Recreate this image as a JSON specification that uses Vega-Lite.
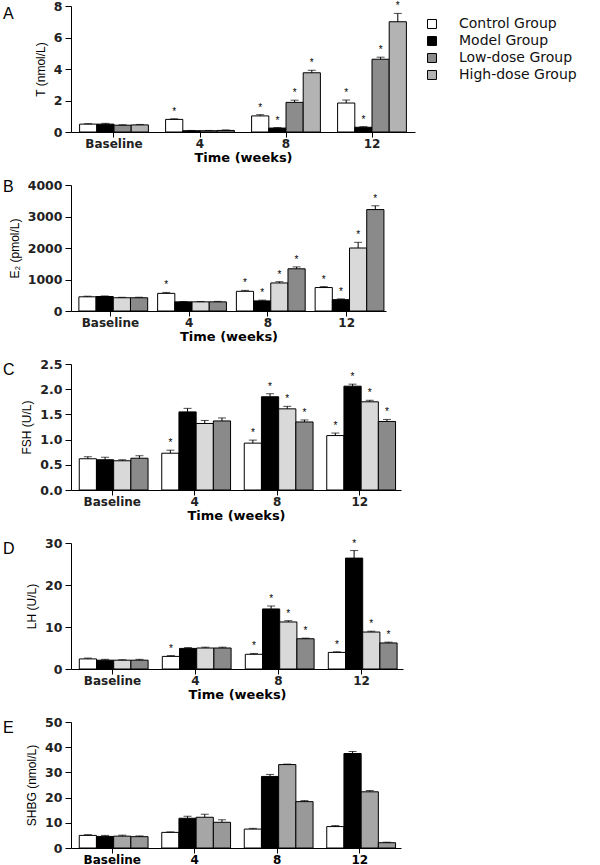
{
  "$schema": "https://vega.github.io/schema/vega-lite/v6.json",
  "background": "white",
  "padding": {"left": 3, "top": 0, "right": 5, "bottom": 0},
  "spacing": 15,
  "datasets": {
    "T": [
      {"time": "Baseline", "group": "Control Group", "v": 0.50, "hi": 0.53, "sig": ""},
      {"time": "Baseline", "group": "Model Group", "v": 0.50, "hi": 0.55, "sig": ""},
      {"time": "Baseline", "group": "Low-dose Group", "v": 0.43, "hi": 0.46, "sig": ""},
      {"time": "Baseline", "group": "High-dose Group", "v": 0.45, "hi": 0.48, "sig": ""},
      {"time": "4", "group": "Control Group", "v": 0.80, "hi": 0.84, "sig": "*"},
      {"time": "4", "group": "Model Group", "v": 0.08, "hi": 0.10, "sig": ""},
      {"time": "4", "group": "Low-dose Group", "v": 0.08, "hi": 0.10, "sig": ""},
      {"time": "4", "group": "High-dose Group", "v": 0.10, "hi": 0.13, "sig": ""},
      {"time": "8", "group": "Control Group", "v": 1.02, "hi": 1.10, "sig": "*"},
      {"time": "8", "group": "Model Group", "v": 0.25, "hi": 0.28, "sig": "*"},
      {"time": "8", "group": "Low-dose Group", "v": 1.88, "hi": 2.02, "sig": "*"},
      {"time": "8", "group": "High-dose Group", "v": 3.76, "hi": 3.92, "sig": "*"},
      {"time": "12", "group": "Control Group", "v": 1.84, "hi": 2.03, "sig": "*"},
      {"time": "12", "group": "Model Group", "v": 0.30, "hi": 0.34, "sig": "*"},
      {"time": "12", "group": "Low-dose Group", "v": 4.62, "hi": 4.75, "sig": "*"},
      {"time": "12", "group": "High-dose Group", "v": 7.00, "hi": 7.53, "sig": "*"}
    ],
    "E2": [
      {"time": "Baseline", "group": "Control Group", "v": 450, "hi": 470, "sig": ""},
      {"time": "Baseline", "group": "Model Group", "v": 460, "hi": 478, "sig": ""},
      {"time": "Baseline", "group": "Low-dose Group", "v": 420, "hi": 435, "sig": ""},
      {"time": "Baseline", "group": "High-dose Group", "v": 420, "hi": 437, "sig": ""},
      {"time": "4", "group": "Control Group", "v": 560, "hi": 590, "sig": "*"},
      {"time": "4", "group": "Model Group", "v": 290, "hi": 302, "sig": ""},
      {"time": "4", "group": "Low-dose Group", "v": 290, "hi": 302, "sig": ""},
      {"time": "4", "group": "High-dose Group", "v": 290, "hi": 305, "sig": ""},
      {"time": "8", "group": "Control Group", "v": 625, "hi": 655, "sig": "*"},
      {"time": "8", "group": "Model Group", "v": 320, "hi": 345, "sig": "*"},
      {"time": "8", "group": "Low-dose Group", "v": 890, "hi": 930, "sig": "*"},
      {"time": "8", "group": "High-dose Group", "v": 1340, "hi": 1400, "sig": "*"},
      {"time": "12", "group": "Control Group", "v": 745, "hi": 775, "sig": "*"},
      {"time": "12", "group": "Model Group", "v": 360, "hi": 385, "sig": "*"},
      {"time": "12", "group": "Low-dose Group", "v": 2000, "hi": 2180, "sig": "*"},
      {"time": "12", "group": "High-dose Group", "v": 3220, "hi": 3340, "sig": "*"}
    ],
    "FSH": [
      {"time": "Baseline", "group": "Control Group", "v": 0.62, "hi": 0.66, "sig": ""},
      {"time": "Baseline", "group": "Model Group", "v": 0.60, "hi": 0.65, "sig": ""},
      {"time": "Baseline", "group": "Low-dose Group", "v": 0.58, "hi": 0.60, "sig": ""},
      {"time": "Baseline", "group": "High-dose Group", "v": 0.63, "hi": 0.68, "sig": ""},
      {"time": "4", "group": "Control Group", "v": 0.73, "hi": 0.79, "sig": "*"},
      {"time": "4", "group": "Model Group", "v": 1.55, "hi": 1.62, "sig": ""},
      {"time": "4", "group": "Low-dose Group", "v": 1.32, "hi": 1.38, "sig": ""},
      {"time": "4", "group": "High-dose Group", "v": 1.37, "hi": 1.43, "sig": ""},
      {"time": "8", "group": "Control Group", "v": 0.93, "hi": 0.99, "sig": "*"},
      {"time": "8", "group": "Model Group", "v": 1.85, "hi": 1.91, "sig": "*"},
      {"time": "8", "group": "Low-dose Group", "v": 1.61, "hi": 1.66, "sig": "*"},
      {"time": "8", "group": "High-dose Group", "v": 1.35, "hi": 1.39, "sig": "*"},
      {"time": "12", "group": "Control Group", "v": 1.08, "hi": 1.13, "sig": "*"},
      {"time": "12", "group": "Model Group", "v": 2.06, "hi": 2.10, "sig": "*"},
      {"time": "12", "group": "Low-dose Group", "v": 1.75, "hi": 1.78, "sig": "*"},
      {"time": "12", "group": "High-dose Group", "v": 1.36, "hi": 1.40, "sig": "*"}
    ],
    "LH": [
      {"time": "Baseline", "group": "Control Group", "v": 2.4, "hi": 2.6, "sig": ""},
      {"time": "Baseline", "group": "Model Group", "v": 2.1, "hi": 2.3, "sig": ""},
      {"time": "Baseline", "group": "Low-dose Group", "v": 2.1, "hi": 2.2, "sig": ""},
      {"time": "Baseline", "group": "High-dose Group", "v": 2.1, "hi": 2.3, "sig": ""},
      {"time": "4", "group": "Control Group", "v": 3.0, "hi": 3.2, "sig": "*"},
      {"time": "4", "group": "Model Group", "v": 4.9, "hi": 5.1, "sig": ""},
      {"time": "4", "group": "Low-dose Group", "v": 5.0, "hi": 5.2, "sig": ""},
      {"time": "4", "group": "High-dose Group", "v": 5.0, "hi": 5.2, "sig": ""},
      {"time": "8", "group": "Control Group", "v": 3.5, "hi": 3.7, "sig": "*"},
      {"time": "8", "group": "Model Group", "v": 14.3, "hi": 15.0, "sig": "*"},
      {"time": "8", "group": "Low-dose Group", "v": 11.2, "hi": 11.5, "sig": "*"},
      {"time": "8", "group": "High-dose Group", "v": 7.2, "hi": 7.35, "sig": "*"},
      {"time": "12", "group": "Control Group", "v": 3.95, "hi": 4.1, "sig": "*"},
      {"time": "12", "group": "Model Group", "v": 26.4, "hi": 28.2, "sig": "*"},
      {"time": "12", "group": "Low-dose Group", "v": 8.8, "hi": 9.0, "sig": "*"},
      {"time": "12", "group": "High-dose Group", "v": 6.2, "hi": 6.4, "sig": "*"}
    ],
    "SHBG": [
      {"time": "Baseline", "group": "Control Group", "v": 5.0, "hi": 5.3, "sig": ""},
      {"time": "Baseline", "group": "Model Group", "v": 4.6, "hi": 5.0, "sig": ""},
      {"time": "Baseline", "group": "Low-dose Group", "v": 4.7, "hi": 5.1, "sig": ""},
      {"time": "Baseline", "group": "High-dose Group", "v": 4.5, "hi": 4.8, "sig": ""},
      {"time": "4", "group": "Control Group", "v": 6.2, "hi": 6.4, "sig": ""},
      {"time": "4", "group": "Model Group", "v": 11.8, "hi": 12.6, "sig": ""},
      {"time": "4", "group": "Low-dose Group", "v": 12.2, "hi": 13.4, "sig": ""},
      {"time": "4", "group": "High-dose Group", "v": 10.2, "hi": 11.2, "sig": ""},
      {"time": "8", "group": "Control Group", "v": 7.5, "hi": 7.8, "sig": ""},
      {"time": "8", "group": "Model Group", "v": 28.4, "hi": 29.2, "sig": ""},
      {"time": "8", "group": "Low-dose Group", "v": 33.1, "hi": 33.3, "sig": ""},
      {"time": "8", "group": "High-dose Group", "v": 18.4, "hi": 18.8, "sig": ""},
      {"time": "12", "group": "Control Group", "v": 8.5, "hi": 8.9, "sig": ""},
      {"time": "12", "group": "Model Group", "v": 37.5, "hi": 38.3, "sig": ""},
      {"time": "12", "group": "Low-dose Group", "v": 22.3, "hi": 22.8, "sig": ""},
      {"time": "12", "group": "High-dose Group", "v": 2.1, "hi": 2.3, "sig": ""}
    ]
  },
  "resolve": {"scale": {"fill": "independent"}, "legend": {"fill": "independent"}},
  "vconcat": [
    {
      "title": {"text": "A", "anchor": "start", "frame": "group", "dx": -68, "offset": -22},
      "width": 344, "height": 126,
      "data": {"name": "T"},
      "encoding": {
        "x": {"field": "time", "type": "nominal", "sort": ["Baseline", "4", "8", "12"], "scale": {"paddingInner": 0.2, "paddingOuter": 0.1}, "axis": {"title": "Time (weeks)"}},
        "xOffset": {"field": "group", "type": "nominal", "sort": ["Control Group", "Model Group", "Low-dose Group", "High-dose Group"]}
      },
      "layer": [
        {"mark": {"type": "bar", "stroke": "black", "strokeWidth": 1},
         "encoding": {
           "y": {"field": "v", "type": "quantitative", "title": "T (nmol/L)", "scale": {"domain": [0, 8], "nice": false}, "axis": {"values": [0, 2, 4, 6, 8]}},
           "fill": {"field": "group", "type": "nominal", "sort": ["Control Group", "Model Group", "Low-dose Group", "High-dose Group"],
             "scale": {"domain": ["Control Group", "Model Group", "Low-dose Group", "High-dose Group"], "range": ["#ffffff", "#000000", "#8c8c8c", "#b3b3b3"]},
             "legend": {"title": null, "orient": "none", "legendX": 354, "legendY": 11}}
         }},
        {"mark": {"type": "rule", "color": "black", "strokeWidth": 1},
         "encoding": {"y": {"field": "v", "type": "quantitative", "title": "T (nmol/L)", "axis": {"values": [0, 2, 4, 6, 8]}}, "y2": {"field": "hi"}}},
        {"mark": {"type": "tick", "color": "black", "thickness": 1, "size": 8, "orient": "horizontal"},
         "encoding": {"y": {"field": "hi", "type": "quantitative", "title": "T (nmol/L)", "axis": {"values": [0, 2, 4, 6, 8]}}}},
        {"mark": {"type": "text", "dy": -2, "baseline": "bottom", "fontSize": 10, "color": "black"},
         "encoding": {"y": {"field": "hi", "type": "quantitative", "title": "T (nmol/L)", "axis": {"values": [0, 2, 4, 6, 8]}}, "text": {"field": "sig"}}}
      ]
    },
    {
      "title": {"text": "B", "anchor": "start", "frame": "group", "dx": -68, "offset": -16},
      "width": 315, "height": 126,
      "data": {"name": "E2"},
      "encoding": {
        "x": {"field": "time", "type": "nominal", "sort": ["Baseline", "4", "8", "12"], "scale": {"paddingInner": 0.2, "paddingOuter": 0.1}, "axis": {"title": "Time (weeks)"}},
        "xOffset": {"field": "group", "type": "nominal", "sort": ["Control Group", "Model Group", "Low-dose Group", "High-dose Group"]}
      },
      "layer": [
        {"mark": {"type": "bar", "stroke": "black", "strokeWidth": 1},
         "encoding": {
           "y": {"field": "v", "type": "quantitative", "title": "E₂ (pmol/L)", "scale": {"domain": [0, 4000], "nice": false}, "axis": {"values": [0, 1000, 2000, 3000, 4000], "format": "d"}},
           "fill": {"field": "group", "type": "nominal",
             "scale": {"domain": ["Control Group", "Model Group", "Low-dose Group", "High-dose Group"], "range": ["#ffffff", "#000000", "#d9d9d9", "#8a8a8a"]},
             "legend": null}
         }},
        {"mark": {"type": "rule", "color": "black", "strokeWidth": 1},
         "encoding": {"y": {"field": "v", "type": "quantitative", "title": "E₂ (pmol/L)", "axis": {"values": [0, 1000, 2000, 3000, 4000], "format": "d"}}, "y2": {"field": "hi"}}},
        {"mark": {"type": "tick", "color": "black", "thickness": 1, "size": 8, "orient": "horizontal"},
         "encoding": {"y": {"field": "hi", "type": "quantitative", "title": "E₂ (pmol/L)", "axis": {"values": [0, 1000, 2000, 3000, 4000], "format": "d"}}}},
        {"mark": {"type": "text", "dy": -2, "baseline": "bottom", "fontSize": 10, "color": "black"},
         "encoding": {"y": {"field": "hi", "type": "quantitative", "title": "E₂ (pmol/L)", "axis": {"values": [0, 1000, 2000, 3000, 4000], "format": "d"}}, "text": {"field": "sig"}}}
      ]
    },
    {
      "title": {"text": "C", "anchor": "start", "frame": "group", "dx": -68, "offset": -20},
      "width": 330, "height": 126,
      "data": {"name": "FSH"},
      "encoding": {
        "x": {"field": "time", "type": "nominal", "sort": ["Baseline", "4", "8", "12"], "scale": {"paddingInner": 0.2, "paddingOuter": 0.1}, "axis": {"title": "Time (weeks)"}},
        "xOffset": {"field": "group", "type": "nominal", "sort": ["Control Group", "Model Group", "Low-dose Group", "High-dose Group"]}
      },
      "layer": [
        {"mark": {"type": "bar", "stroke": "black", "strokeWidth": 1},
         "encoding": {
           "y": {"field": "v", "type": "quantitative", "title": "FSH (U/L)", "scale": {"domain": [0, 2.5], "nice": false}, "axis": {"values": [0, 0.5, 1, 1.5, 2, 2.5], "format": ".1f"}},
           "fill": {"field": "group", "type": "nominal",
             "scale": {"domain": ["Control Group", "Model Group", "Low-dose Group", "High-dose Group"], "range": ["#ffffff", "#000000", "#d9d9d9", "#8a8a8a"]},
             "legend": null}
         }},
        {"mark": {"type": "rule", "color": "black", "strokeWidth": 1},
         "encoding": {"y": {"field": "v", "type": "quantitative", "title": "FSH (U/L)", "axis": {"values": [0, 0.5, 1, 1.5, 2, 2.5], "format": ".1f"}}, "y2": {"field": "hi"}}},
        {"mark": {"type": "tick", "color": "black", "thickness": 1, "size": 8, "orient": "horizontal"},
         "encoding": {"y": {"field": "hi", "type": "quantitative", "title": "FSH (U/L)", "axis": {"values": [0, 0.5, 1, 1.5, 2, 2.5], "format": ".1f"}}}},
        {"mark": {"type": "text", "dy": -2, "baseline": "bottom", "fontSize": 10, "color": "black"},
         "encoding": {"y": {"field": "hi", "type": "quantitative", "title": "FSH (U/L)", "axis": {"values": [0, 0.5, 1, 1.5, 2, 2.5], "format": ".1f"}}, "text": {"field": "sig"}}}
      ]
    },
    {
      "title": {"text": "D", "anchor": "start", "frame": "group", "dx": -68, "offset": -20},
      "width": 332, "height": 126,
      "data": {"name": "LH"},
      "encoding": {
        "x": {"field": "time", "type": "nominal", "sort": ["Baseline", "4", "8", "12"], "scale": {"paddingInner": 0.2, "paddingOuter": 0.1}, "axis": {"title": "Time (weeks)"}},
        "xOffset": {"field": "group", "type": "nominal", "sort": ["Control Group", "Model Group", "Low-dose Group", "High-dose Group"]}
      },
      "layer": [
        {"mark": {"type": "bar", "stroke": "black", "strokeWidth": 1},
         "encoding": {
           "y": {"field": "v", "type": "quantitative", "title": "LH (U/L)", "scale": {"domain": [0, 30], "nice": false}, "axis": {"values": [0, 10, 20, 30]}},
           "fill": {"field": "group", "type": "nominal",
             "scale": {"domain": ["Control Group", "Model Group", "Low-dose Group", "High-dose Group"], "range": ["#ffffff", "#000000", "#d9d9d9", "#8a8a8a"]},
             "legend": null}
         }},
        {"mark": {"type": "rule", "color": "black", "strokeWidth": 1},
         "encoding": {"y": {"field": "v", "type": "quantitative", "title": "LH (U/L)", "axis": {"values": [0, 10, 20, 30]}}, "y2": {"field": "hi"}}},
        {"mark": {"type": "tick", "color": "black", "thickness": 1, "size": 8, "orient": "horizontal"},
         "encoding": {"y": {"field": "hi", "type": "quantitative", "title": "LH (U/L)", "axis": {"values": [0, 10, 20, 30]}}}},
        {"mark": {"type": "text", "dy": -2, "baseline": "bottom", "fontSize": 10, "color": "black"},
         "encoding": {"y": {"field": "hi", "type": "quantitative", "title": "LH (U/L)", "axis": {"values": [0, 10, 20, 30]}}, "text": {"field": "sig"}}}
      ]
    },
    {
      "title": {"text": "E", "anchor": "start", "frame": "group", "dx": -68, "offset": -20},
      "width": 330, "height": 126,
      "data": {"name": "SHBG"},
      "encoding": {
        "x": {"field": "time", "type": "nominal", "sort": ["Baseline", "4", "8", "12"], "scale": {"paddingInner": 0.2, "paddingOuter": 0.1}, "axis": {"title": null, "labelColor": "black"}},
        "xOffset": {"field": "group", "type": "nominal", "sort": ["Control Group", "Model Group", "Low-dose Group", "High-dose Group"]}
      },
      "layer": [
        {"mark": {"type": "bar", "stroke": "black", "strokeWidth": 1},
         "encoding": {
           "y": {"field": "v", "type": "quantitative", "title": "SHBG (nmol/L)", "scale": {"domain": [0, 50], "nice": false}, "axis": {"values": [0, 10, 20, 30, 40, 50]}},
           "fill": {"field": "group", "type": "nominal",
             "scale": {"domain": ["Control Group", "Model Group", "Low-dose Group", "High-dose Group"], "range": ["#ffffff", "#000000", "#a6a6a6", "#999999"]},
             "legend": null}
         }},
        {"mark": {"type": "rule", "color": "black", "strokeWidth": 1},
         "encoding": {"y": {"field": "v", "type": "quantitative", "title": "SHBG (nmol/L)", "axis": {"values": [0, 10, 20, 30, 40, 50]}}, "y2": {"field": "hi"}}},
        {"mark": {"type": "tick", "color": "black", "thickness": 1, "size": 8, "orient": "horizontal"},
         "encoding": {"y": {"field": "hi", "type": "quantitative", "title": "SHBG (nmol/L)", "axis": {"values": [0, 10, 20, 30, 40, 50]}}}}
      ]
    }
  ],
  "config": {
    "view": {"stroke": null},
    "title": {"font": "Liberation Sans", "fontSize": 16, "fontWeight": "normal", "color": "black"},
    "axis": {"domainColor": "black", "tickColor": "black", "grid": false, "labelColor": "#222", "titleColor": "black", "labelOverlap": false},
    "axisX": {"labelFont": "DejaVu Sans", "labelFontWeight": "bold", "labelFontSize": 12, "labelAngle": 0, "titleFont": "DejaVu Sans", "titleFontWeight": "bold", "titleFontSize": 13, "tickSize": 5, "labelPadding": 1, "titlePadding": 2},
    "axisY": {"labelFont": "DejaVu Sans", "labelFontWeight": "bold", "labelFontSize": 12.5, "titleFont": "Liberation Sans", "titleFontWeight": "normal", "titleFontSize": 12, "tickSize": 6, "labelPadding": 3, "titlePadding": 6},
    "legend": {"labelFont": "DejaVu Sans", "labelFontSize": 14, "labelColor": "#111", "symbolType": "square", "symbolSize": 80, "symbolStrokeColor": "black", "symbolStrokeWidth": 1, "rowPadding": 3, "labelOffset": 20}
  }
}
